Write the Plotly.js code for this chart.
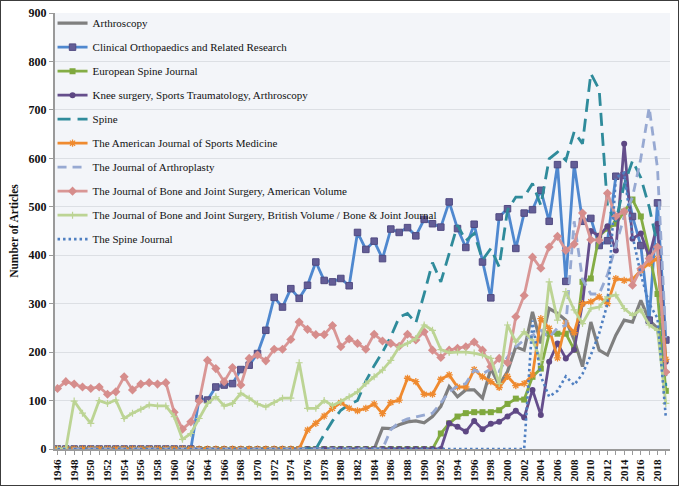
<!DOCTYPE html>
<html>
<head>
<meta charset="utf-8">
<script src="https://cdn.plot.ly/plotly-3.0.1.min.js"></script>
<style>
    body { margin: 0; background: white; }
    #articles-plot { width: 677px; height: 484px; border: 1px solid #3c3c3c; }
</style>
</head>
<body>
<div id="articles-plot"></div>
<script>
const years = [1946, 1947, 1948, 1949, 1950, 1951, 1952, 1953, 1954, 1955, 1956, 1957, 1958, 1959,
    1960, 1961, 1962, 1963, 1964, 1965, 1966, 1967, 1968, 1969, 1970, 1971, 1972, 1973, 1974, 1975,
    1976, 1977, 1978, 1979, 1980, 1981, 1982, 1983, 1984, 1985, 1986, 1987, 1988, 1989, 1990, 1991,
    1992, 1993, 1994, 1995, 1996, 1997, 1998, 1999, 2000, 2001, 2002, 2003, 2004, 2005, 2006, 2007,
    2008, 2009, 2010, 2011, 2012, 2013, 2014, 2015, 2016, 2017, 2018, 2019]

// 1946-1984 are all zero for this one
const arthroscopy = [0, 0, 0, 0, 0, 0, 0, 0, 0, 0, 0, 0, 0, 0,
    0, 0, 0, 0, 0, 0, 0, 0, 0, 0, 0, 0, 0, 0, 0, 0,
    0, 0, 0, 0, 0, 0, 0, 0, 0, 43, 42, 50, 56, 58, 54, 67,
    88, 129, 108, 122, 122, 105, 166, 132, 160, 211, 204, 283, 218, 290, 280, 266,
    225, 170, 262, 204, 194, 235, 266, 262, 307, 266, 249, 150]

const corr = [0, 0, 0, 0, 0, 0, 0, 0, 0, 0, 0, 0, 0, 0,
    0, 0, 0, 104, 101, 128, 132, 135, 164, 173, 197, 245, 313, 293, 331, 311,
    338, 386, 348, 345, 352, 337, 447, 412, 429, 393, 454, 447, 457, 440, 474, 465,
    458, 510, 455, 416, 464, 386, 312, 479, 496, 414, 487, 494, 534, 470, 587, 346,
    587, 470, 476, 420, 430, 563, 565, 480, 420, 266, 508, 225]

const euroSpine = [0, 0, 0, 0, 0, 0, 0, 0, 0, 0, 0, 0, 0, 0,
    0, 0, 0, 0, 0, 0, 0, 0, 0, 0, 0, 0, 0, 0, 0, 0,
    0, 0, 0, 0, 0, 0, 0, 0, 0, 0, 0, 0, 0, 0, 0, 0,
    32, 53, 67, 74, 76, 76, 76, 80, 93, 104, 102, 149, 166, 238, 238, 238,
    205, 345, 352, 440, 455, 465, 490, 515, 480, 405, 320, 120]

const kssta = [0, 0, 0, 0, 0, 0, 0, 0, 0, 0, 0, 0, 0, 0,
    0, 0, 0, 0, 0, 0, 0, 0, 0, 0, 0, 0, 0, 0, 0, 0,
    0, 0, 0, 0, 0, 0, 0, 0, 0, 0, 0, 0, 0, 0, 0, 0,
    0, 53, 46, 36, 58, 41, 52, 56, 67, 79, 65, 122, 70, 180, 218, 187,
    205, 300, 450, 440, 460, 410, 630, 434, 445, 396, 465, 180]

const spine = [0, 0, 0, 0, 0, 0, 0, 0, 0, 0, 0, 0, 0, 0,
    0, 0, 0, 0, 0, 0, 0, 0, 0, 0, 0, 0, 0, 0, 0, 0,
    0, 0, 30, 58, 80, 92, 100, 140, 172, 200, 232, 272, 280, 260, 320, 385,
    345, 403, 462, 430, 445, 390, 414, 376, 493, 520, 520, 548, 503, 599, 613, 596,
    655, 630, 775, 742, 500, 470, 545, 595, 560, 500, 420, 130]

const ajsm = [0, 0, 0, 0, 0, 0, 0, 0, 0, 0, 0, 0, 0, 0,
    0, 0, 0, 0, 0, 0, 0, 0, 0, 0, 0, 0, 0, 0, 0, 0,
    39, 53, 68, 84, 96, 84, 79, 84, 93, 73, 96, 101, 146, 139, 113, 113,
    144, 153, 128, 128, 164, 149, 139, 127, 150, 131, 135, 153, 269, 249, 188, 260,
    240, 300, 304, 314, 300, 352, 348, 350, 369, 383, 393, 185]

const arthroplasty = [0, 0, 0, 0, 0, 0, 0, 0, 0, 0, 0, 0, 0, 0,
    0, 0, 0, 0, 0, 0, 0, 0, 0, 0, 0, 0, 0, 0, 0, 0,
    0, 0, 0, 0, 0, 0, 0, 0, 0, 0, 40, 55, 62, 66, 70, 74,
    95, 118, 130, 135, 163, 155, 165, 160, 190, 211, 225, 235, 245, 230, 250, 255,
    470, 350, 320, 320, 360, 420, 480, 520, 600, 705, 580, 230]

const jbjsAm = [125, 139, 134, 128, 125, 128, 113, 118, 149, 122, 134, 137, 134, 137,
    76, 41, 56, 99, 183, 166, 139, 168, 132, 187, 194, 182, 206, 206, 226, 262,
    247, 236, 236, 255, 211, 227, 218, 206, 237, 223, 218, 212, 237, 225, 242, 204,
    189, 204, 208, 211, 221, 204, 170, 187, 178, 273, 317, 396, 373, 417, 439, 410,
    423, 487, 432, 431, 528, 480, 490, 338, 372, 393, 417, 159]

const jbjsBr = [0, 0, 99, 74, 53, 100, 94, 101, 63, 74, 82, 91, 89, 89,
    67, 20, 32, 63, 94, 108, 89, 94, 115, 105, 93, 87, 96, 105, 105, 178,
    84, 84, 100, 90, 98, 108, 118, 135, 149, 163, 183, 211, 218, 228, 256, 245,
    205, 199, 200, 200, 198, 194, 187, 135, 256, 221, 242, 225, 183, 345, 266, 325,
    287, 259, 290, 293, 314, 318, 290, 276, 287, 256, 245, 94]

const spineJournal = [0, 0, 0, 0, 0, 0, 0, 0, 0, 0, 0, 0, 0, 0,
    0, 0, 0, 0, 0, 0, 0, 0, 0, 0, 0, 0, 0, 0, 0, 0,
    0, 0, 0, 0, 0, 0, 0, 0, 0, 0, 0, 0, 0, 0, 0, 0,
    0, 0, 0, 0, 0, 0, 0, 0, 0, 0, 0, 265, 150, 108, 120, 150,
    132, 155, 194, 239, 300, 560, 570, 440, 360, 300, 270, 65]

const yearTicks = [1946, 1948, 1950, 1952, 1954, 1956, 1958, 1960, 1962, 1964, 1966, 1968, 1970,
    1972, 1974, 1976, 1978, 1980, 1982, 1984, 1986, 1988, 1990, 1992, 1994, 1996, 1998, 2000,
    2002, 2004, 2006, 2008, 2010, 2012, 2014, 2016, 2018]

window.addEventListener('DOMContentLoaded', () => {
    plotArticles()
})

function series(name, values, line, marker) {
    return {
        type: 'scatter',
        mode: marker ? 'lines+markers' : 'lines',
        name: name,
        legendgroup: name,
        x: years,
        y: values,
        line: Object.assign({width: 2.8}, line),
        marker: marker || {}
    }
}

function plotArticles() {
    let target = document.getElementById('articles-plot')

    const data = [
        series('Arthroscopy', arthroscopy, {color: '#7f7f7f', width: 3.2}),
        series('Clinical Orthopaedics and Related Research', corr, {color: '#4f88cf'},
            {symbol: 'square', size: 6.5, color: '#635d96', line: {color: '#514b82', width: 1}}),
        series('European Spine Journal', euroSpine, {color: '#84ad45'},
            {symbol: 'square', size: 6, color: '#7fa83e'}),
        series('Knee surgery, Sports Traumatology, Arthroscopy', kssta, {color: '#654e8c'},
            {symbol: 'circle', size: 6, color: '#5d4783'}),
        series('Spine', spine, {color: '#2f8b9b', dash: '13px,7px'}),
        series('The American Journal of Sports Medicine', ajsm, {color: '#ef8a2f'},
            {symbol: 'asterisk-open', size: 6, line: {color: '#ef8a2f', width: 1.3}}),
        series('The Journal of Arthroplasty', arthroplasty, {color: '#97a9d2', dash: '9px,6px'}),
        series('The Journal of Bone and Joint Surgery, American Volume', jbjsAm, {color: '#d99695'},
            {symbol: 'diamond', size: 7, color: '#d68d8c'}),
        series('The Journal of Bone and Joint Surgery, British Volume / Bone & Joint Journal', jbjsBr,
            {color: '#bcd494'},
            {symbol: 'cross-thin-open', size: 5, line: {color: '#aac67e', width: 1.2}}),
        series('The Spine Journal', spineJournal, {color: '#4f7fc1', dash: '2.5px,3px', width: 2.6})
    ]

    const layout = {
        width: 677,
        height: 484,
        margin: {l: 54, r: 8, t: 12, b: 36},
        paper_bgcolor: 'white',
        plot_bgcolor: '#f3f5f9',
        font: {family: 'Liberation Serif, Times New Roman, serif', color: '#111'},
        showlegend: true,
        legend: {
            x: -0.004,
            y: 1.01,
            xanchor: 'left',
            yanchor: 'top',
            maxheight: 420,
            bgcolor: 'rgba(0,0,0,0)',
            font: {size: 11, color: '#111'},
            itemwidth: 30,
            traceorder: 'grouped',
            tracegroupgap: 5
        },
        xaxis: {
            range: [1945.7, 2019.5],
            tickmode: 'array',
            tickvals: yearTicks,
            tickangle: -90,
            tickfont: {size: 11, weight: 'bold'},
            showgrid: false,
            zeroline: false,
            showline: true,
            linecolor: '#9a9a9a',
            linewidth: 2,
            ticks: 'outside',
            ticklen: 4,
            tickcolor: '#9a9a9a',
            minor: {dtick: 1, ticks: 'outside', ticklen: 4, tickcolor: '#9a9a9a', showgrid: false}
        },
        yaxis: {
            range: [0, 900],
            dtick: 100,
            tickfont: {size: 12, weight: 'bold'},
            gridcolor: '#dcdfe4',
            gridwidth: 1,
            zeroline: false,
            showline: true,
            linecolor: '#9a9a9a',
            linewidth: 2,
            ticks: 'outside',
            ticklen: 4,
            tickcolor: '#9a9a9a',
            title: {text: 'Number of Articles', font: {size: 11.5, weight: 'bold'}, standoff: 8}
        }
    }
    const config = {responsive: false, displayModeBar: false}

    Plotly.newPlot(target, data, layout, config)
}
</script>
</body>
</html>
